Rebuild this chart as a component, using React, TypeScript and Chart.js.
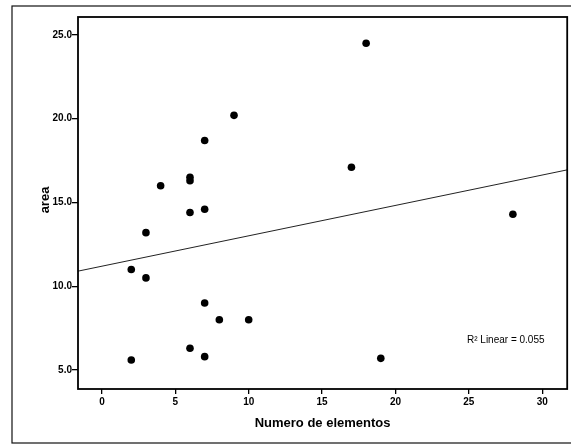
import React, { useEffect, useRef } from "react";
import { Chart, registerables } from "chart.js";

Chart.register(...registerables);

// Data (Numero de elementos vs area)
const elementos: number[] = [18, 9, 7, 17, 6, 6, 4, 7, 6, 28, 3, 2, 3, 7, 8, 10, 6, 7, 2, 19];
const area: number[] = [24.5, 20.2, 18.7, 17.1, 16.5, 16.3, 16.0, 14.6, 14.4, 14.3, 13.2, 11.0, 10.5, 9.0, 8.0, 8.0, 6.3, 5.8, 5.6, 5.7];

const xTicks: number[] = [0, 5, 10, 15, 20, 25, 30];
const yTicks: number[] = [5, 10, 15, 20, 25];
const xRange: number[] = [-1.63, 31.7];
const yRange: number[] = [3.87, 26.07];

const xTitle = "Numero de elementos";
const yTitle = "area";
const r2Label = "R\u00B2 Linear = 0.055";

const FONT = "'Liberation Sans', Arial, sans-serif";

function linearFit(xs: number[], ys: number[]) {
  const n = xs.length;
  const mx = xs.reduce((a, b) => a + b, 0) / n;
  const my = ys.reduce((a, b) => a + b, 0) / n;
  let sxy = 0;
  let sxx = 0;
  for (let i = 0; i < n; i++) {
    sxy += (xs[i] - mx) * (ys[i] - my);
    sxx += (xs[i] - mx) * (xs[i] - mx);
  }
  const slope = sxy / sxx;
  return { slope, intercept: my - slope * mx };
}

const framePlugin = {
  id: "spssFrame",
  afterDraw(chart: any) {
    const { ctx, chartArea } = chart;
    ctx.save();
    // outer frame
    ctx.strokeStyle = "#111";
    ctx.lineWidth = 1.2;
    ctx.strokeRect(12, 6, 600, 437);
    // plot frame
    ctx.lineWidth = 1.8;
    ctx.strokeStyle = "#000";
    ctx.strokeRect(chartArea.left, chartArea.top, chartArea.right - chartArea.left, chartArea.bottom - chartArea.top);
    // titles
    ctx.fillStyle = "#000";
    ctx.font = `bold 13px ${FONT}`;
    ctx.textAlign = "center";
    ctx.textBaseline = "middle";
    ctx.fillText(xTitle, (chartArea.left + chartArea.right) / 2, 423);
    ctx.save();
    ctx.translate(45, 200);
    ctx.rotate(-Math.PI / 2);
    ctx.fillText(yTitle, 0, 0);
    ctx.restore();
    // R2 annotation
    ctx.font = `10px ${FONT}`;
    ctx.textAlign = "left";
    ctx.fillText(r2Label, 467, 340);
    ctx.restore();
  },
};

export default function App() {
  const ref = useRef<HTMLCanvasElement | null>(null);

  useEffect(() => {
    if (!ref.current) return;
    const fit = linearFit(elementos, area);
    const lineData = xRange.map((x) => ({ x, y: fit.intercept + fit.slope * x }));
    const points = elementos.map((x, i) => ({ x, y: area[i] }));

    const tickFont = { family: FONT, size: 10, weight: "bold" as const };

    const chart = new Chart(ref.current, {
      type: "scatter",
      data: {
        datasets: [
          {
            label: "area",
            data: points,
            backgroundColor: "#000",
            borderColor: "#000",
            pointRadius: 3.8,
            pointHoverRadius: 3.8,
            borderWidth: 0,
          },
          {
            label: "fit",
            type: "line" as any,
            data: lineData,
            borderColor: "#222",
            borderWidth: 1,
            pointRadius: 0,
            showLine: true,
            fill: false,
          } as any,
        ],
      },
      options: {
        animation: false,
        responsive: false,
        devicePixelRatio: 1,
        layout: { padding: { left: 0, top: 17, right: 3, bottom: 0 } },
        plugins: {
          legend: { display: false },
          tooltip: { enabled: false },
        },
        scales: {
          x: {
            type: "linear",
            min: xRange[0],
            max: xRange[1],
            afterBuildTicks: (s: any) => {
              s.ticks = xTicks.map((v) => ({ value: v }));
            },
            afterFit: (s: any) => {
              s.height = 59;
            },
            grid: { display: true, drawOnChartArea: false, drawTicks: true, tickLength: 5, color: "#000", lineWidth: 1.3 },
            border: { display: false },
            ticks: { color: "#000", font: tickFont, padding: 2, maxRotation: 0, callback: (v: any) => String(v) },
          },
          y: {
            type: "linear",
            min: yRange[0],
            max: yRange[1],
            afterBuildTicks: (s: any) => {
              s.ticks = yTicks.map((v) => ({ value: v }));
            },
            afterFit: (s: any) => {
              s.width = 78;
            },
            grid: { display: true, drawOnChartArea: false, drawTicks: true, tickLength: 6, color: "#000", lineWidth: 1.3 },
            border: { display: false },
            ticks: { color: "#000", font: tickFont, padding: 0, callback: (v: any) => Number(v).toFixed(1) },
          },
        },
      },
      plugins: [framePlugin],
    });
    return () => chart.destroy();
  }, []);

  return (
    <div style={{ position: "fixed", left: 0, top: 0, width: 571, height: 448, background: "#fff" }}>
      <canvas ref={ref} width={571} height={448} style={{ display: "block", width: 571, height: 448 }} />
    </div>
  );
}
